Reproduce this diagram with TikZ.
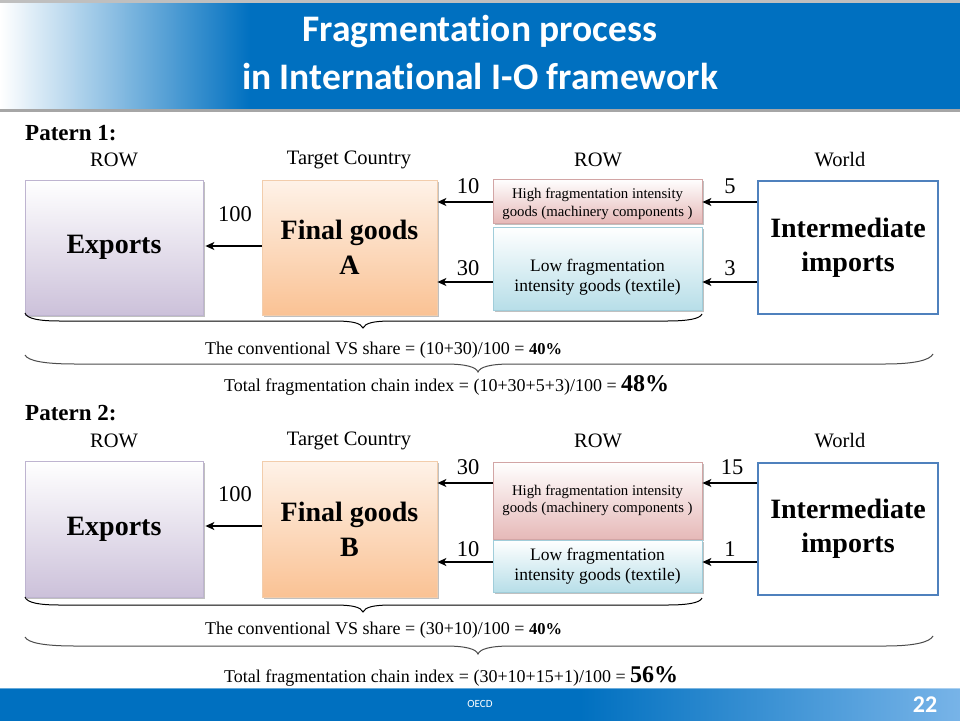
\documentclass[tikz,border=0pt]{standalone}
\usepackage{fontspec}
\setmainfont{Liberation Serif}
\newfontfamily\calfont[Ligatures=NoCommon]{Carlito}
\usetikzlibrary{arrows.meta,shadows}
\definecolor{hdrblue}{RGB}{0,112,192}
\definecolor{hdrlight}{RGB}{120,180,232}
\definecolor{lav}{RGB}{204,193,218}
\definecolor{lavedge}{RGB}{190,180,208}
\definecolor{peach}{RGB}{250,194,148}
\definecolor{peachtop}{RGB}{254,242,232}
\definecolor{peachedge}{RGB}{242,205,172}
\definecolor{pinkbox}{RGB}{230,185,184}
\definecolor{pinkedge}{RGB}{210,165,165}
\definecolor{sky}{RGB}{183,222,232}
\definecolor{skyedge}{RGB}{160,205,218}
\definecolor{imblue}{RGB}{79,129,189}
\begin{document}
\begin{tikzpicture}[x=1pt,y=-1pt,
  box/.style={rectangle, inner sep=0pt, align=center, line width=0.8pt,
    drop shadow={shadow xshift=1.5pt,shadow yshift=-1.5pt,opacity=0.35,fill=black!70}},
  exbox/.style={box, draw=lavedge, top color=white, bottom color=lav,
    minimum width=178pt, minimum height=135pt, font=\bfseries\fontsize{28}{34}\selectfont},
  fgbox/.style={box, draw=peachedge, top color=peachtop, bottom color=peach,
    minimum width=175pt, minimum height=135pt, font=\bfseries\fontsize{28}{35}\selectfont},
  hibox/.style={box, draw=pinkedge, top color=white, bottom color=pinkbox, minimum width=209pt},
  lobox/.style={box, draw=skyedge, top color=white, bottom color=sky, minimum width=209pt},
  hitxt/.style={align=center, inner sep=0pt, font=\fontsize{14.8}{17.5}\selectfont},
  lotxt/.style={align=center, inner sep=0pt, font=\fontsize{17.5}{20}\selectfont},
  imbox/.style={rectangle, inner sep=0pt, align=center, draw=imblue, line width=2.5pt, fill=white,
    minimum width=180pt, minimum height=133pt, font=\bfseries\fontsize{28}{34}\selectfont},
  colhead/.style={font=\fontsize{20.5}{22}\selectfont, inner sep=0pt},
  num/.style={font=\fontsize{22.5}{24}\selectfont, inner sep=0pt},
  pat/.style={font=\bfseries\fontsize{23}{25}\selectfont, inner sep=0pt, anchor=west},
  arr/.style={-{Stealth[length=9pt,width=8pt,inset=2.5pt]}, line width=1.2pt},
  brc/.style={line width=1pt},
  sumtxt/.style={font=\fontsize{18}{20}\selectfont, inner sep=0pt, anchor=base west},
  ttl/.style={font=\calfont\bfseries\fontsize{37.5}{40}\selectfont, inner sep=0pt, text=white}
]
\useasboundingbox (0,0) rectangle (960,720);
\fill[white] (0,0) rectangle (960,720);
% header
\fill[black!25] (0,0) rectangle (960,3);
\fill[hdrblue] (0,3) rectangle (960,109);
\shade[left color=white, right color=hdrblue] (0,3) rectangle (250,109);
\fill[black!35] (0,109) rectangle (960,112);
\node[ttl] (t1) at (480,32) {Fragmentation process};
\node[ttl] (t2) at (480,76) {in International I-O framework};
% footer
\fill[hdrblue] (0,688) rectangle (960,721);
\shade[left color=hdrblue, right color=hdrlight] (580,688) rectangle (961,721);
\fill[white, opacity=0.4] (0,687) rectangle (960,688.5);
\node[font=\calfont\fontsize{11}{12}\selectfont, text=white, inner sep=0pt] (oecd) at (480,704) {OECD};
\node[font=\calfont\bfseries\fontsize{24}{26}\selectfont, text=white, inner sep=0pt] (pg) at (925,705) {22};

% ================= Pattern 1
\node[pat] (p1) at (25,133) {Patern 1:};
\node[colhead] (h11) at (114,160) {ROW};
\node[colhead] (h12) at (349,160) {Target Country};
\node[colhead] (h13) at (598,160) {ROW};
\node[colhead] (h14) at (840,160) {World};

\node[exbox] (exA) at (114,247.5) {Exports};
\node[fgbox] (fgA) at (349.5,247.5) {Final goods\\A};
\node[hibox, minimum height=44pt] (hiA) at (597.5,201) {};
\begin{scope}
  \clip (hiA.north west) rectangle ([yshift=3pt]hiA.south east);
  \node[hitxt] (hiAt) at (597.5,204) {High fragmentation intensity\\goods (machinery components )};
\end{scope}
\node[lobox, minimum height=83pt] (loA) at (597.5,268.5) {};
\node[lotxt] (loAt) at (597.5,277) {Low fragmentation\\intensity goods (textile)};
\node[imbox] (imA) at (848,247.5) {Intermediate\\imports};

\coordinate (yA0) at (0,246);
\coordinate (yA1) at (0,202);
\coordinate (yA2) at (0,282);
\draw[arr, shorten >=2pt] (fgA.west |- yA0) -- (exA.east |- yA0);
\draw[arr] (hiA.west |- yA1) -- (fgA.east |- yA1);
\draw[arr] (loA.west |- yA2) -- (fgA.east |- yA2);
\draw[arr] (imA.west |- yA1) -- (hiA.east |- yA1);
\draw[arr] (imA.west |- yA2) -- (loA.east |- yA2);
\node[num] (nA0) at (235,214) {100};
\node[num] (nA1) at (468,186) {10};
\node[num] (nA2) at (468,268) {30};
\node[num] (nA3) at (730,186) {5};
\node[num] (nA4) at (730,268) {3};

\draw[brc] (25,313) .. controls (27,319) and (40,321) .. (60,321) -- (335,321)
  .. controls (352,321) and (361,323) .. (363,328)
  .. controls (365,323) and (374,321) .. (391,321) -- (667,321)
  .. controls (687,321) and (700,319) .. (702,314);
\draw[brc, black!70] (25,355) .. controls (28,361) and (45,364) .. (75,364) -- (445,364)
  .. controls (466,364) and (476,367) .. (478,372)
  .. controls (480,367) and (490,364) .. (511,364) -- (885,364)
  .. controls (915,364) and (930,360) .. (933,354);
\node[sumtxt] (sA1) at (205,354) {The conventional VS share = (10+30)/100 = {\bfseries\fontsize{16.5}{18}\selectfont 40\%}};
\node[sumtxt] (sA2) at (224,391) {Total fragmentation chain index = (10+30+5+3)/100 = {\bfseries\fontsize{24}{26}\selectfont 48\%}};

% ================= Pattern 2
\node[pat] (p2) at (25,413) {Patern 2:};
\node[colhead] (h21) at (114,441) {ROW};
\node[colhead] (h22) at (349,441) {Target Country};
\node[colhead] (h23) at (598,441) {ROW};
\node[colhead] (h24) at (840,441) {World};

\node[exbox, minimum height=136pt] (exB) at (114,529) {Exports};
\node[fgbox, minimum height=136pt] (fgB) at (349.5,529) {Final goods\\B};
\node[hibox, minimum height=77pt, hitxt] (hiB) at (597.5,500.5) {High fragmentation intensity\\goods (machinery components )};
\node[lobox, minimum height=52pt, lotxt] (loB) at (597.5,566) {Low fragmentation\\intensity goods (textile)};
\node[imbox, minimum height=132pt] (imB) at (848,529) {Intermediate\\imports};

\coordinate (yB0) at (0,526);
\coordinate (yB1) at (0,483);
\coordinate (yB2) at (0,562);
\draw[arr, shorten >=2pt] (fgB.west |- yB0) -- (exB.east |- yB0);
\draw[arr] (hiB.west |- yB1) -- (fgB.east |- yB1);
\draw[arr] (loB.west |- yB2) -- (fgB.east |- yB2);
\draw[arr] (imB.west |- yB1) -- (hiB.east |- yB1);
\draw[arr] (imB.west |- yB2) -- (loB.east |- yB2);
\node[num] (nB0) at (235,494) {100};
\node[num] (nB1) at (468,467) {30};
\node[num] (nB2) at (468,549) {10};
\node[num] (nB3) at (732,467) {15};
\node[num] (nB4) at (730,549) {1};

\draw[brc] (25,597) .. controls (27,603) and (40,605) .. (60,605) -- (335,605)
  .. controls (352,605) and (361,607) .. (363,612)
  .. controls (365,607) and (374,605) .. (391,605) -- (667,605)
  .. controls (687,605) and (700,603) .. (702,598);
\draw[brc, black!70] (25,637) .. controls (28,643) and (45,646) .. (75,646) -- (445,646)
  .. controls (466,646) and (476,649) .. (478,654)
  .. controls (480,649) and (490,646) .. (511,646) -- (885,646)
  .. controls (915,646) and (930,642) .. (933,636);
\node[sumtxt] (sB1) at (205,634) {The conventional VS share = (30+10)/100 = {\bfseries\fontsize{16.5}{18}\selectfont 40\%}};
\node[sumtxt] (sB2) at (224,682) {Total fragmentation chain index = (30+10+15+1)/100 = {\bfseries\fontsize{24}{26}\selectfont 56\%}};
\end{tikzpicture}
\end{document}
